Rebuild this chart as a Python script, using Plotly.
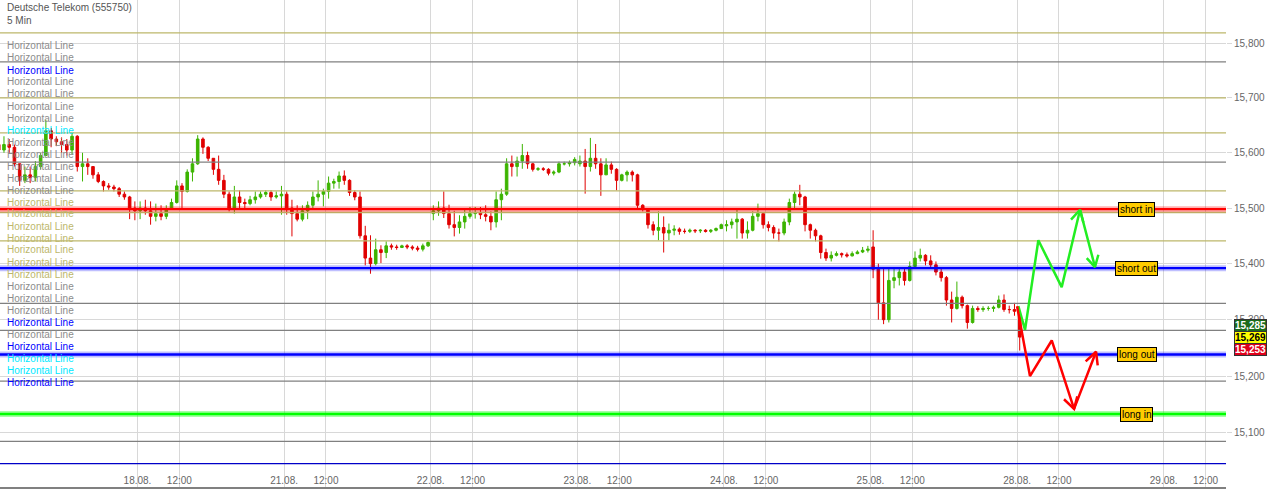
import math
import plotly.graph_objects as go

# ---------------- data ----------------
# 30-minute OHLC bars, session time 08:00-22:00 (14 h per trading day)
day_labels = ["17.08.", "18.08.", "21.08.", "22.08.", "23.08.", "24.08.", "25.08.", "28.08.", "29.08."]
session_first_slot = [1, 0, 0, 0, 0, 0, 0, 0]
session_slot_count = [27, 28, 28, 28, 28, 28, 28, 1]

opens = [
    # 17.08.
    15.615, 15.605, 15.615, 15.610, 15.580, 15.550, 15.560, 15.555, 15.575, 15.595, 15.640, 15.625, 15.620, 15.615,
    15.605, 15.630, 15.575, 15.580, 15.575, 15.560, 15.548, 15.540, 15.538, 15.535, 15.525, 15.520, 15.500,
    # 18.08.
    15.495, 15.500, 15.495, 15.485, 15.490, 15.485, 15.498, 15.510, 15.540, 15.530, 15.565, 15.580, 15.625, 15.610,
    15.590, 15.570, 15.550, 15.525, 15.500, 15.520, 15.510, 15.508, 15.515, 15.520, 15.525, 15.528, 15.520, 15.522,
    # 21.08.
    15.525, 15.500, 15.490, 15.480, 15.495, 15.505, 15.520, 15.525, 15.530, 15.545, 15.548, 15.558, 15.550, 15.528,
    15.520, 15.450, 15.410, 15.400, 15.425, 15.420, 15.432, 15.430, 15.429, 15.432, 15.430, 15.428, 15.426, 15.432,
    # 22.08.
    15.490, 15.495, 15.500, 15.490, 15.470, 15.465, 15.475, 15.485, 15.490, 15.492, 15.488, 15.485, 15.475, 15.515,
    15.525, 15.580, 15.575, 15.585, 15.595, 15.580, 15.570, 15.571, 15.570, 15.563, 15.565, 15.580, 15.580, 15.582,
    # 23.08.
    15.580, 15.585, 15.575, 15.590, 15.580, 15.560, 15.578, 15.570, 15.550, 15.560, 15.565, 15.560, 15.505, 15.498,
    15.470, 15.460, 15.465, 15.455, 15.460, 15.462, 15.458, 15.458, 15.460, 15.459, 15.460, 15.458, 15.460, 15.463,
    # 24.08.
    15.468, 15.470, 15.475, 15.480, 15.455, 15.460, 15.485, 15.490, 15.470, 15.465, 15.455, 15.455, 15.475, 15.510,
    15.525, 15.520, 15.470, 15.460, 15.450, 15.420, 15.410, 15.415, 15.418, 15.416, 15.414, 15.418, 15.421, 15.424,
    # 25.08.
    15.430, 15.390, 15.330, 15.300, 15.370, 15.375, 15.385, 15.370, 15.395, 15.410, 15.415, 15.405, 15.398, 15.385,
    15.375, 15.335, 15.320, 15.340, 15.325, 15.295, 15.320, 15.318, 15.320, 15.320, 15.322, 15.335, 15.318, 15.318,
    # 28.08.
    15.305,
]
highs = [
    15.640, 15.630, 15.625, 15.615, 15.580, 15.575, 15.575, 15.585, 15.600, 15.660, 15.645, 15.630, 15.628, 15.625,
    15.638, 15.632, 15.600, 15.590, 15.575, 15.565, 15.550, 15.545, 15.542, 15.538, 15.530, 15.522, 15.512,
    15.512, 15.515, 15.512, 15.508, 15.505, 15.505, 15.517, 15.550, 15.545, 15.570, 15.590, 15.632, 15.628, 15.612,
    15.590, 15.595, 15.560, 15.530, 15.540, 15.532, 15.517, 15.522, 15.530, 15.530, 15.532, 15.532, 15.530, 15.540,
    15.530, 15.515, 15.505, 15.505, 15.512, 15.530, 15.550, 15.535, 15.557, 15.553, 15.566, 15.568, 15.552, 15.532,
    15.530, 15.468, 15.451, 15.445, 15.433, 15.440, 15.436, 15.434, 15.434, 15.435, 15.433, 15.432, 15.436, 15.440,
    15.505, 15.512, 15.530, 15.506, 15.495, 15.487, 15.499, 15.502, 15.502, 15.502, 15.505, 15.494, 15.530, 15.535,
    15.590, 15.595, 15.593, 15.616, 15.602, 15.582, 15.574, 15.574, 15.572, 15.568, 15.584, 15.584, 15.586, 15.592,
    15.595, 15.607, 15.627, 15.616, 15.590, 15.590, 15.584, 15.572, 15.562, 15.568, 15.568, 15.562, 15.507, 15.500,
    15.476, 15.494, 15.485, 15.472, 15.469, 15.465, 15.463, 15.463, 15.462, 15.462, 15.462, 15.462, 15.465, 15.472,
    15.478, 15.481, 15.499, 15.482, 15.476, 15.494, 15.508, 15.492, 15.476, 15.469, 15.463, 15.481, 15.517, 15.530,
    15.542, 15.522, 15.472, 15.463, 15.452, 15.427, 15.422, 15.422, 15.420, 15.420, 15.422, 15.424, 15.430, 15.432,
    15.460, 15.400, 15.392, 15.392, 15.392, 15.392, 15.392, 15.404, 15.422, 15.427, 15.417, 15.415, 15.404, 15.392,
    15.378, 15.350, 15.368, 15.343, 15.327, 15.325, 15.324, 15.324, 15.324, 15.325, 15.343, 15.345, 15.325, 15.330,
    15.310,
]
lows = [
    15.590, 15.600, 15.600, 15.575, 15.540, 15.545, 15.545, 15.548, 15.570, 15.595, 15.610, 15.612, 15.600, 15.595,
    15.597, 15.566, 15.548, 15.560, 15.553, 15.545, 15.530, 15.533, 15.530, 15.520, 15.515, 15.480, 15.478,
    15.480, 15.488, 15.470, 15.476, 15.478, 15.480, 15.498, 15.508, 15.500, 15.528, 15.548, 15.578, 15.598, 15.585,
    15.560, 15.542, 15.518, 15.494, 15.490, 15.498, 15.498, 15.505, 15.508, 15.517, 15.520, 15.513, 15.517, 15.488,
    15.488, 15.449, 15.476, 15.476, 15.480, 15.498, 15.512, 15.503, 15.517, 15.535, 15.535, 15.542, 15.522, 15.514,
    15.445, 15.397, 15.382, 15.397, 15.401, 15.410, 15.425, 15.425, 15.428, 15.426, 15.424, 15.422, 15.422, 15.430,
    15.478, 15.486, 15.482, 15.463, 15.449, 15.454, 15.463, 15.481, 15.481, 15.480, 15.476, 15.460, 15.465, 15.478,
    15.522, 15.557, 15.557, 15.571, 15.571, 15.566, 15.567, 15.567, 15.559, 15.559, 15.563, 15.577, 15.575, 15.577,
    15.575, 15.526, 15.566, 15.571, 15.522, 15.560, 15.562, 15.532, 15.548, 15.548, 15.548, 15.499, 15.494, 15.463,
    15.451, 15.442, 15.420, 15.442, 15.451, 15.452, 15.454, 15.455, 15.455, 15.455, 15.456, 15.455, 15.458, 15.463,
    15.458, 15.463, 15.445, 15.445, 15.445, 15.458, 15.476, 15.463, 15.458, 15.445, 15.440, 15.451, 15.469, 15.499,
    15.505, 15.458, 15.445, 15.440, 15.409, 15.405, 15.404, 15.413, 15.411, 15.411, 15.413, 15.417, 15.419, 15.420,
    15.374, 15.300, 15.292, 15.295, 15.356, 15.361, 15.361, 15.368, 15.393, 15.404, 15.397, 15.392, 15.379, 15.368,
    15.325, 15.295, 15.318, 15.320, 15.284, 15.293, 15.314, 15.314, 15.316, 15.314, 15.320, 15.314, 15.311, 15.307,
    15.245,
]
closes = [
    15.605, 15.615, 15.610, 15.580, 15.550, 15.560, 15.555, 15.575, 15.595, 15.640, 15.625, 15.620, 15.615, 15.605,
    15.630, 15.575, 15.580, 15.575, 15.560, 15.548, 15.540, 15.538, 15.535, 15.525, 15.520, 15.500, 15.495,
    15.500, 15.495, 15.485, 15.490, 15.485, 15.498, 15.510, 15.540, 15.530, 15.565, 15.580, 15.625, 15.610, 15.590,
    15.570, 15.550, 15.525, 15.500, 15.520, 15.510, 15.508, 15.515, 15.520, 15.525, 15.528, 15.520, 15.522, 15.525,
    15.500, 15.490, 15.480, 15.495, 15.505, 15.520, 15.525, 15.530, 15.545, 15.548, 15.558, 15.550, 15.528, 15.520,
    15.450, 15.410, 15.400, 15.425, 15.420, 15.432, 15.430, 15.429, 15.432, 15.430, 15.428, 15.426, 15.432, 15.438,
    15.495, 15.500, 15.490, 15.470, 15.465, 15.475, 15.485, 15.490, 15.492, 15.488, 15.485, 15.475, 15.515, 15.525,
    15.580, 15.575, 15.585, 15.595, 15.580, 15.570, 15.571, 15.570, 15.563, 15.565, 15.580, 15.580, 15.582, 15.588,
    15.585, 15.575, 15.590, 15.580, 15.560, 15.578, 15.570, 15.550, 15.560, 15.565, 15.560, 15.505, 15.498, 15.470,
    15.460, 15.465, 15.455, 15.460, 15.462, 15.458, 15.458, 15.460, 15.459, 15.460, 15.458, 15.460, 15.463, 15.470,
    15.470, 15.475, 15.480, 15.455, 15.460, 15.485, 15.490, 15.470, 15.465, 15.455, 15.455, 15.475, 15.510, 15.525,
    15.520, 15.470, 15.460, 15.450, 15.420, 15.410, 15.415, 15.418, 15.416, 15.414, 15.418, 15.421, 15.424, 15.426,
    15.390, 15.330, 15.300, 15.370, 15.375, 15.385, 15.370, 15.395, 15.410, 15.415, 15.405, 15.398, 15.385, 15.375,
    15.335, 15.320, 15.340, 15.325, 15.295, 15.320, 15.318, 15.320, 15.320, 15.322, 15.335, 15.318, 15.318, 15.315,
    15.269,
]

# drawn horizontal lines (price, style)
thin_line_prices = [15.819, 15.766, 15.700, 15.636, 15.583, 15.531, 15.492, 15.441, 15.329, 15.281, 15.191, 15.085, 15.046]
thin_line_kinds = ["khaki", "grey", "khaki", "khaki", "grey", "khaki", "khaki", "khaki", "grey", "grey", "grey", "grey", "navy"]
signal_prices = [15.498, 15.392, 15.238, 15.133]
signal_kinds = ["red", "blue", "blue", "green"]
signal_labels = ["short in", "short out", "long out", "long in"]

# left list of line names
line_name_text = "Horizontal Line"
line_name_kinds = ["grey", "grey", "blue", "grey", "grey", "grey", "grey", "cyan", "grey", "grey", "grey", "grey", "grey",
                   "khaki", "khaki", "khaki", "khaki", "khaki", "khaki", "khaki", "grey", "grey", "grey", "blue",
                   "grey", "blue", "cyan", "cyan", "blue"]

# price markers on the right
marker_prices = [15.285, 15.269, 15.253]
marker_texts = ["15,285", "15,269", "15,253"]

# hand-drawn scenario arrows (session hours, price)
green_path_x = [98.12, 98.76, 100.03, 102.26, 104.01, 105.44]
green_path_y = [15.324, 15.282, 15.442, 15.358, 15.497, 15.394]
green_head1_x = [103.15, 104.01, 104.33]
green_head1_y = [15.479, 15.497, 15.474]
green_head2_x = [104.65, 105.44, 105.76]
green_head2_y = [15.410, 15.394, 15.416]
red_path_x = [98.00, 99.23, 101.31, 103.44, 105.54]
red_path_y = [15.324, 15.200, 15.263, 15.142, 15.243]
red_head1_x = [102.48, 103.44, 103.75]
red_head1_y = [15.159, 15.142, 15.164]
red_head2_x = [104.55, 105.54, 105.70]
red_head2_y = [15.226, 15.243, 15.219]

y_ticks = [15.1, 15.2, 15.3, 15.4, 15.5, 15.6, 15.7, 15.8]
y_tick_text = ["15,100", "15,200", "15,300", "15,400", "15,500", "15,600", "15,700", "15,800"]

# ---------------- styles ----------------
HOURS_PER_DAY = 14
BAR_HOURS = 0.5
X_RANGE = [0.87, 117.95]
Y_RANGE = [15.005, 15.8798]
colors = {"khaki": "#bdb76b", "grey": "#808080", "navy": "#0000c8", "blue": "#0000ff",
          "cyan": "#00ffff", "red": "#ff0000", "green": "#00ff00"}
halo = {"red": "rgba(255,0,0,0.30)", "blue": "rgba(0,0,255,0.25)", "green": "rgba(0,255,0,0.35)"}
text_colors = {"grey": "#8c8c8c", "blue": "#0000ff", "cyan": "#00e8ff", "khaki": "#bdb76b"}
FONT = "Liberation Sans, Arial, sans-serif"

# x positions of bars
bar_x = []
for d, (first, count) in enumerate(zip(session_first_slot, session_slot_count)):
    for k in range(first, first + count):
        bar_x.append(d * HOURS_PER_DAY + k * BAR_HOURS + BAR_HOURS / 2)

fig = go.Figure()

for p, kind in zip(thin_line_prices, thin_line_kinds):
    fig.add_trace(go.Scatter(x=X_RANGE, y=[p, p], mode="lines", hoverinfo="skip", showlegend=False,
                             line=dict(color=colors[kind], width=1.3)))

fig.add_trace(go.Candlestick(
    x=bar_x, open=opens, high=highs, low=lows, close=closes, showlegend=False,
    increasing=dict(line=dict(color="#3cb400", width=1), fillcolor="#3cb400"),
    decreasing=dict(line=dict(color="#e00000", width=1), fillcolor="#e00000"),
    whiskerwidth=0,
))

for p, kind in zip(signal_prices, signal_kinds):
    fig.add_trace(go.Scatter(x=X_RANGE, y=[p, p], mode="lines", hoverinfo="skip", showlegend=False,
                             line=dict(color=halo[kind], width=6)))
    fig.add_trace(go.Scatter(x=X_RANGE, y=[p, p], mode="lines", hoverinfo="skip", showlegend=False,
                             line=dict(color=colors[kind], width=2.4)))

def add_path(xs, ys, color):
    fig.add_trace(go.Scatter(x=xs, y=ys, mode="lines", hoverinfo="skip", showlegend=False,
                             line=dict(color=color, width=2.5)))

add_path(green_path_x, green_path_y, "#22ee22")
add_path(green_head1_x, green_head1_y, "#22ee22")
add_path(green_head2_x, green_head2_y, "#22ee22")
add_path(red_path_x, red_path_y, "#ff0000")
add_path(red_head1_x, red_head1_y, "#ff0000")
add_path(red_head2_x, red_head2_y, "#ff0000")

annotations = []
# title
annotations.append(dict(text="Deutsche Telekom (555750)<br>5 Min", xref="paper", yref="paper", x=0.004, y=1.0,
                        xanchor="left", yanchor="top", showarrow=False, align="left",
                        font=dict(family=FONT, size=10, color="#555555")))
# line names on the left
PLOT_H = 487
for i, kind in enumerate(line_name_kinds):
    py = 46 + 12 * i
    annotations.append(dict(text=line_name_text, xref="paper", yref="paper", x=0.004, y=1 - py / PLOT_H,
                            xanchor="left", yanchor="middle", showarrow=False,
                            font=dict(family=FONT, size=10, color=text_colors[kind])))
# signal labels
for p, lab in zip(signal_prices, signal_labels):
    annotations.append(dict(text=lab, xref="paper", yref="y", x=0.927, y=math.log10(p),
                            xanchor="center", yanchor="middle", showarrow=False,
                            bgcolor="#ffcc00", bordercolor="#000000", borderwidth=1, borderpad=1,
                            font=dict(family=FONT, size=10, color="#000000")))
# price markers
marker_bg = ["#1a6b1a", "#ffff00", "#e0001b"]
marker_fg = ["#ffffff", "#000000", "#ffffff"]
marker_shift = [3, 0, -3]
for p, t, bg, fg, sh in zip(marker_prices, marker_texts, marker_bg, marker_fg, marker_shift):
    annotations.append(dict(text="<b>" + t + "</b>", xref="paper", yref="y", x=1.0065, y=math.log10(p),
                            yshift=sh, xanchor="left", yanchor="middle", showarrow=False,
                            bgcolor=bg, bordercolor="#333333", borderwidth=1, borderpad=0,
                            font=dict(family=FONT, size=10, color=fg)))

# x ticks: each trading day start and its 12:00
x_tickvals, x_ticktext = [], []
for d in range(1, len(day_labels)):
    x_tickvals += [d * HOURS_PER_DAY, d * HOURS_PER_DAY + 4]
    x_ticktext += [day_labels[d], "12:00"]

fig.update_layout(
    width=1274, height=491,
    margin=dict(l=0, r=48, t=0, b=4),
    paper_bgcolor="#ffffff", plot_bgcolor="#ffffff",
    font=dict(family=FONT, size=10, color="#666666"),
    annotations=annotations,
    xaxis=dict(range=X_RANGE, tickvals=x_tickvals, ticktext=x_ticktext, showgrid=True, gridcolor="#d8d8d8",
               gridwidth=1, zeroline=False, ticklabelposition="inside", ticks="", automargin=False,
               showline=True, linecolor="#808080", linewidth=2, rangeslider=dict(visible=False),
               tickfont=dict(family=FONT, size=10, color="#666666")),
    yaxis=dict(type="log", range=[math.log10(Y_RANGE[0]), math.log10(Y_RANGE[1])], side="right",
               tickvals=y_ticks, ticktext=y_tick_text, showgrid=True, gridcolor="#d8d8d8", zeroline=False,
               ticks="outside", ticklen=5, tickcolor="#d8d8d8", showline=False, automargin=False,
               tickfont=dict(family=FONT, size=10, color="#666666")),
)

fig.write_html("out.html", config={"displayModeBar": False},
               post_script="document.body.style.margin='0px';")
